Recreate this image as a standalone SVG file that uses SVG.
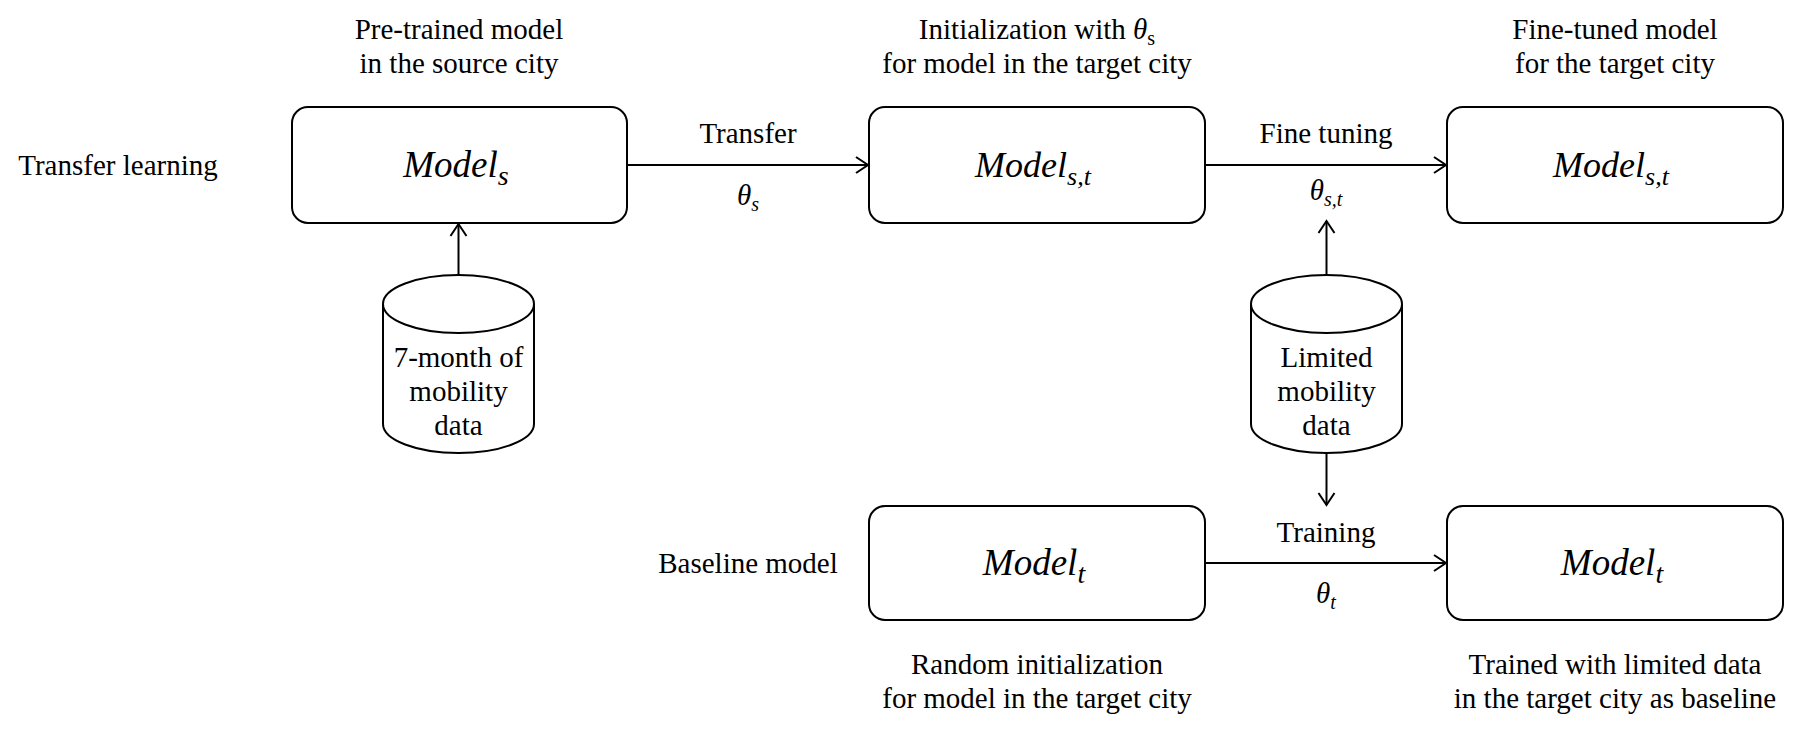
<svg xmlns="http://www.w3.org/2000/svg" width="1796" height="735" viewBox="0 0 1796 735">
<style>
.box{fill:#fff;stroke:#000;stroke-width:2}
.cyl{fill:#fff;stroke:#000;stroke-width:2}
.conn{fill:none;stroke:#000;stroke-width:2}
</style>
<defs>
<marker id="ah" markerUnits="userSpaceOnUse" markerWidth="20" markerHeight="20" viewBox="-14 -10 16 20" refX="0" refY="0" orient="auto">
<path d="M-12,-8 L0,0 L-12,8" fill="none" stroke="#000" stroke-width="2"/>
</marker>
</defs>
<rect width="1796" height="735" fill="#fff"/>

<g id="label-transfer-learning"><text font-family="Liberation Serif" font-size="29" text-anchor="middle" x="118" y="175">Transfer learning</text></g>
<g id="label-baseline-model"><text font-family="Liberation Serif" font-size="29" text-anchor="middle" x="748" y="573">Baseline model</text></g>

<g id="model-s">
<rect class="box" x="292" y="107" width="335" height="116" rx="16"/>
<text font-family="Liberation Serif" font-style="italic" font-size="37" text-anchor="middle" x="456" y="177">Model<tspan font-size="28" dy="8">s</tspan></text>
<text font-family="Liberation Serif" font-size="29" text-anchor="middle" x="459" y="39">Pre-trained model</text>
<text font-family="Liberation Serif" font-size="29" text-anchor="middle" x="459" y="73">in the source city</text>
</g>

<g id="model-st-init">
<rect class="box" x="869" y="107" width="336" height="116" rx="16"/>
<text font-family="Liberation Serif" font-style="italic" font-size="36" text-anchor="middle" x="1033" y="177">Model<tspan font-size="26" dy="8">s,t</tspan></text>
<text font-family="Liberation Serif" font-size="29" text-anchor="middle" x="1037" y="39">Initialization with <tspan font-style="italic">&#952;</tspan><tspan font-size="20" dy="6">s</tspan></text>
<text font-family="Liberation Serif" font-size="29" text-anchor="middle" x="1037" y="73">for model in the target city</text>
</g>

<g id="model-st-finetuned">
<rect class="box" x="1447" y="107" width="336" height="116" rx="16"/>
<text font-family="Liberation Serif" font-style="italic" font-size="36" text-anchor="middle" x="1611" y="177">Model<tspan font-size="26" dy="8">s,t</tspan></text>
<text font-family="Liberation Serif" font-size="29" text-anchor="middle" x="1615" y="39">Fine-tuned model</text>
<text font-family="Liberation Serif" font-size="29" text-anchor="middle" x="1615" y="73">for the target city</text>
</g>

<g id="model-t-init">
<rect class="box" x="869" y="506" width="336" height="114" rx="16"/>
<text font-family="Liberation Serif" font-style="italic" font-size="37" text-anchor="middle" x="1034" y="575">Model<tspan font-size="28" dy="8">t</tspan></text>
<text font-family="Liberation Serif" font-size="29" text-anchor="middle" x="1037" y="674">Random initialization</text>
<text font-family="Liberation Serif" font-size="29" text-anchor="middle" x="1037" y="708">for model in the target city</text>
</g>

<g id="model-t-trained">
<rect class="box" x="1447" y="506" width="336" height="114" rx="16"/>
<text font-family="Liberation Serif" font-style="italic" font-size="37" text-anchor="middle" x="1612" y="575">Model<tspan font-size="28" dy="8">t</tspan></text>
<text font-family="Liberation Serif" font-size="29" text-anchor="middle" x="1615" y="674">Trained with limited data</text>
<text font-family="Liberation Serif" font-size="29" text-anchor="middle" x="1615" y="708">in the target city as baseline</text>
</g>

<g id="data-source">
<path class="cyl" d="M383,304 L383,424 A75.5,29 0 0 0 534,424 L534,304"/>
<ellipse class="cyl" cx="458.5" cy="304" rx="75.5" ry="29"/>
<text font-family="Liberation Serif" font-size="29" text-anchor="middle" x="458.5" y="367">7-month of</text>
<text font-family="Liberation Serif" font-size="29" text-anchor="middle" x="458.5" y="401">mobility</text>
<text font-family="Liberation Serif" font-size="29" text-anchor="middle" x="458.5" y="435">data</text>
</g>

<g id="data-target">
<path class="cyl" d="M1251,304 L1251,424 A75.5,29 0 0 0 1402,424 L1402,304"/>
<ellipse class="cyl" cx="1326.5" cy="304" rx="75.5" ry="29"/>
<text font-family="Liberation Serif" font-size="29" text-anchor="middle" x="1326.5" y="367">Limited</text>
<text font-family="Liberation Serif" font-size="29" text-anchor="middle" x="1326.5" y="401">mobility</text>
<text font-family="Liberation Serif" font-size="29" text-anchor="middle" x="1326.5" y="435">data</text>
</g>

<g id="connectors">
<line class="conn" x1="458.5" y1="275" x2="458.5" y2="224" marker-end="url(#ah)"/>
<line class="conn" x1="627" y1="165" x2="868" y2="165" marker-end="url(#ah)"/>
<line class="conn" x1="1205" y1="165" x2="1446" y2="165" marker-end="url(#ah)"/>
<line class="conn" x1="1326.5" y1="275" x2="1326.5" y2="221" marker-end="url(#ah)"/>
<line class="conn" x1="1326.5" y1="453" x2="1326.5" y2="505" marker-end="url(#ah)"/>
<line class="conn" x1="1205" y1="563" x2="1446" y2="563" marker-end="url(#ah)"/>
<text font-family="Liberation Serif" font-size="29" text-anchor="middle" x="748" y="143">Transfer</text>
<text font-family="Liberation Serif" font-size="29" text-anchor="middle" x="748" y="205"><tspan font-style="italic">&#952;</tspan><tspan font-style="italic" font-size="20" dy="6">s</tspan></text>
<text font-family="Liberation Serif" font-size="29" text-anchor="middle" x="1326" y="143">Fine tuning</text>
<text font-family="Liberation Serif" font-size="29" text-anchor="middle" x="1326" y="200"><tspan font-style="italic">&#952;</tspan><tspan font-style="italic" font-size="20" dy="6">s,t</tspan></text>
<text font-family="Liberation Serif" font-size="29" text-anchor="middle" x="1326" y="542">Training</text>
<text font-family="Liberation Serif" font-size="29" text-anchor="middle" x="1326" y="603"><tspan font-style="italic">&#952;</tspan><tspan font-style="italic" font-size="20" dy="6">t</tspan></text>
</g>
</svg>
